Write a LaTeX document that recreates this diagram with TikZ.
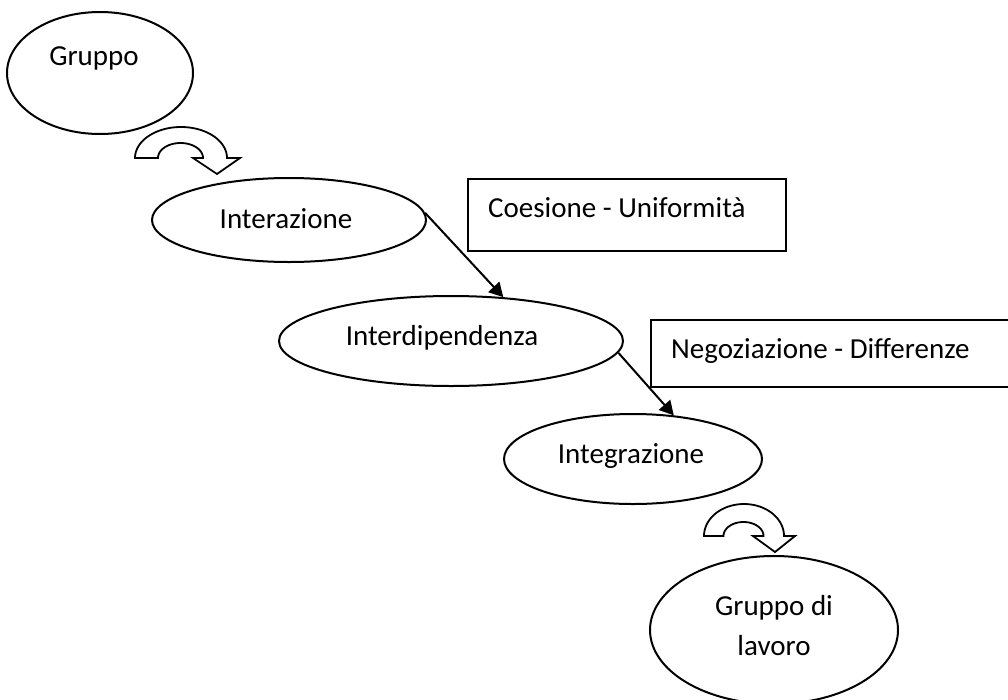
\documentclass[tikz,border=0pt]{standalone}
\usepackage{fontspec}
\setmainfont{Carlito}
\usetikzlibrary{shapes.geometric,arrows.meta}
\begin{document}
\begin{tikzpicture}[x=1pt,y=-1pt,
  oval/.style={draw,ellipse,line width=2pt,inner sep=0pt},
  lbl/.style={font=\fontsize{29}{40}\selectfont,inner sep=0pt},
  box/.style={draw,line width=2pt,rectangle,inner sep=0pt,anchor=north west},
  link/.style={line width=2pt,-{Triangle[length=14pt,width=15pt]}},
  uturn/.style={draw,line width=1.8pt,line join=miter}]
\useasboundingbox (0,0) rectangle (1008,699);
\clip (0,0) rectangle (1008,699);

\node[oval,minimum width=186pt,minimum height=122pt] (gruppo) at (100,73) {};
\node[lbl,anchor=base] (tgruppo) at (94,65) {Gruppo};
\node[oval,minimum width=274pt,minimum height=84pt] (interazione) at (289,220) {};
\node[lbl,anchor=base] (tinterazione) at (286,228) {Interazione};
\node[oval,minimum width=344pt,minimum height=90pt] (interdip) at (451,341) {};
\node[lbl,anchor=base] (tinterdip) at (442,345) {Interdipendenza};
\node[oval,minimum width=258pt,minimum height=90pt] (integrazione) at (633,459) {};
\node[lbl,anchor=base] (tintegrazione) at (631,463) {Integrazione};
\node[oval,minimum width=248pt,minimum height=148pt] (lavoro) at (774,630) {};
\node[lbl,anchor=base,align=center] (tlavoro) at (774,655) {Gruppo di\\lavoro};

\node[box,minimum width=318pt,minimum height=72pt] (coesione) at (467,178) {};
\node[lbl,anchor=base west] (tcoesione) at (488,217) {Coesione - Uniformità};
\node[box,minimum width=370pt,minimum height=67pt] (negoz) at (650,319) {};
\node[lbl,anchor=base west] (tnegoz) at (671,358) {Negoziazione - Differenze};

\draw[link] (interazione.3) -- (interdip.40);
\draw[link] (interdip.-4) -- (integrazione.47);

\draw[uturn] plot[domain=180:0,samples=50] ({181+46*cos(\x)},{158-31*sin(\x)}) -- (240,158) -- (217,174) -- (193,158) -- (203,158) -- plot[domain=0:180,samples=50] ({180.5+22.5*cos(\x)},{158-15*sin(\x)}) -- cycle;
\draw[uturn] plot[domain=180:0,samples=50] ({744+40*cos(\x)},{536-32*sin(\x)}) -- (795,536) -- (775,552) -- (753,536) -- (763.5,536) -- plot[domain=0:180,samples=50] ({743.5+20*cos(\x)},{536-14*sin(\x)}) -- cycle;
\end{tikzpicture}
\end{document}
